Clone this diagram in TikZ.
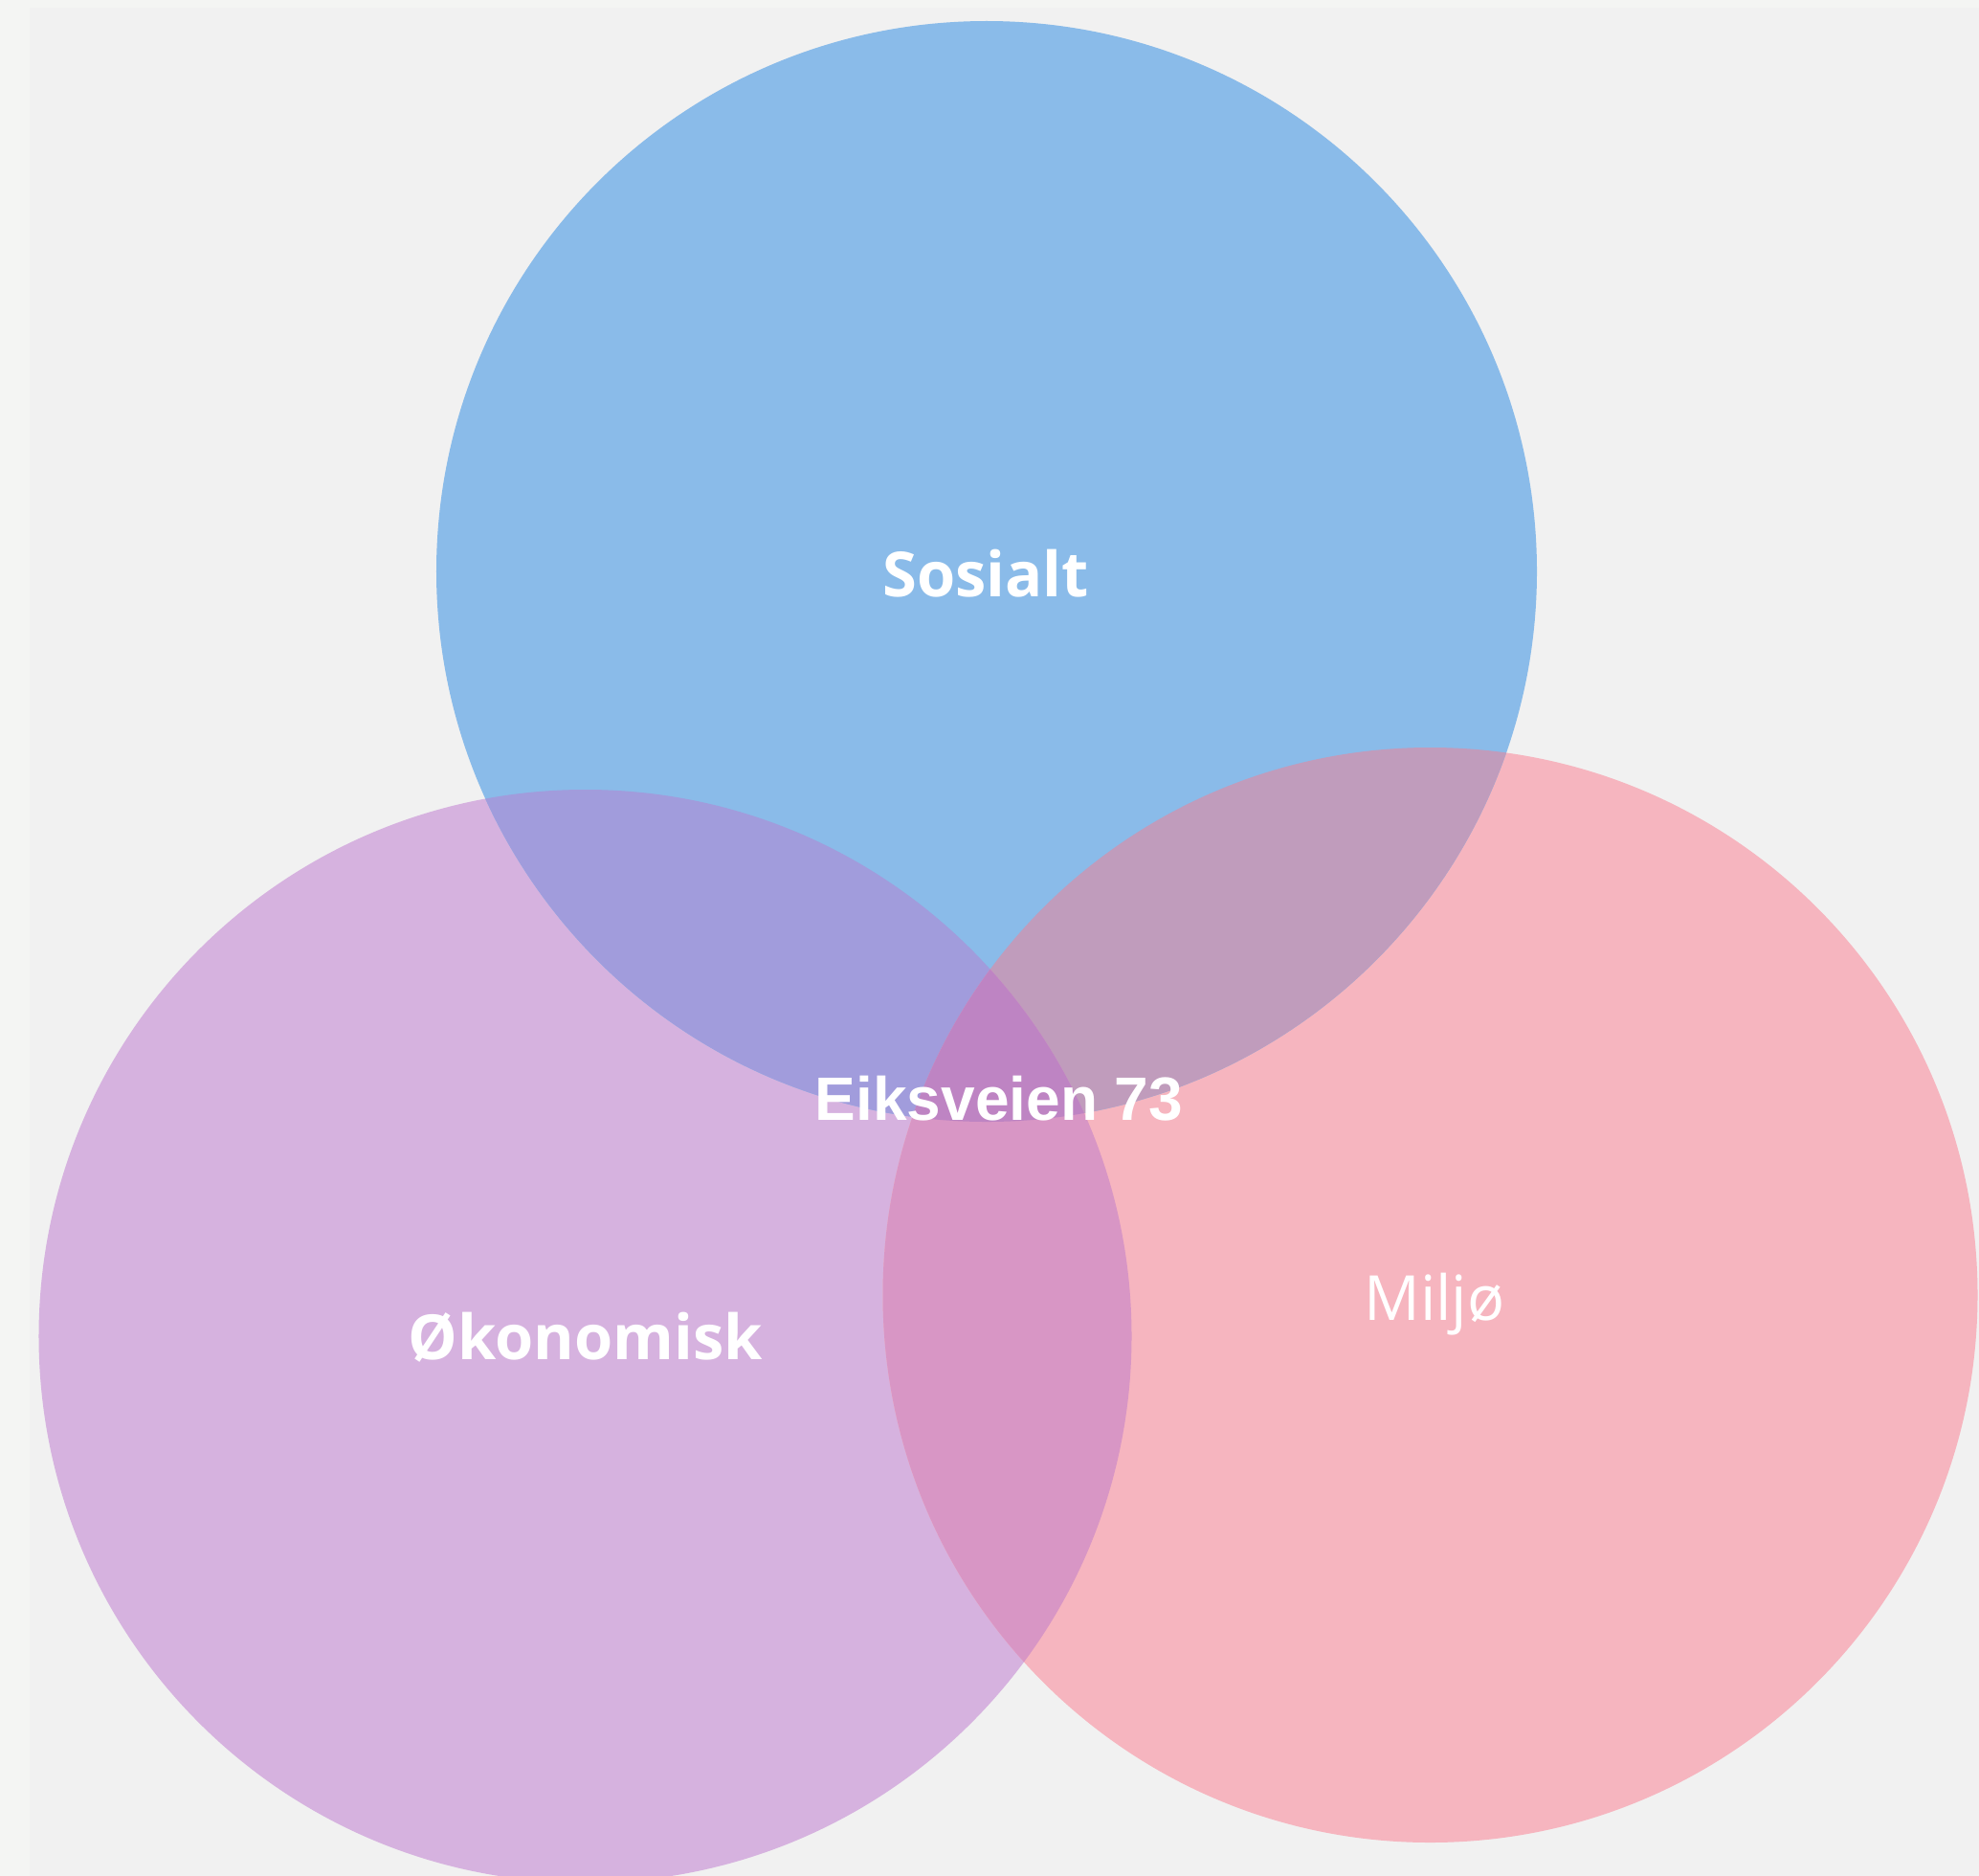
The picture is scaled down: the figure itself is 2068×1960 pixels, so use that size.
\documentclass[tikz,border=0pt]{standalone}
\usepackage{fontspec}
\newfontfamily\osans{Open Sans}
\newfontfamily\lsans{Liberation Sans}
\definecolor{outerbg}{HTML}{F4F5F3}
\definecolor{innerbg}{HTML}{F1F1F1}
\definecolor{cblue}{HTML}{8ABBE9}
\definecolor{cpurple}{HTML}{D6B2DF}
\definecolor{cpink}{HTML}{F6B5BF}
\definecolor{cbp}{HTML}{A19CDC}
\definecolor{cbk}{HTML}{C09CBC}
\definecolor{cpk}{HTML}{D896C5}
\definecolor{call}{HTML}{BE84C3}
\tikzset{
  lbl/.style={text=white, anchor=base, inner sep=0pt},
  boldlbl/.style={lbl, font=\osans\bfseries\fontsize{#1bp}{#1bp}\selectfont},
  reglbl/.style={lbl, font=\osans\fontsize{#1bp}{#1bp}\selectfont},
  arlbl/.style={lbl, font=\lsans\bfseries\fontsize{#1bp}{#1bp}\selectfont}
}
\begin{document}
\begin{tikzpicture}[x=1bp,y=-1bp]
\useasboundingbox (0,0) rectangle (2068,1960);
\fill[outerbg] (0,0) rectangle (2068,1960);
\fill[innerbg] (31,8) rectangle (2068,1960);
% circles
\fill[cpurple] (611.5,1396) circle[radius=571bp];
\fill[cpink] (1494.5,1353) circle[radius=572bp];
\fill[cblue] (1031,597) circle[radius=575bp];
% overlaps
\begin{scope}
  \clip (1031,597) circle[radius=575bp];
  \fill[cbp] (611.5,1396) circle[radius=571bp];
  \fill[cbk] (1494.5,1353) circle[radius=572bp];
\end{scope}
\begin{scope}
  \clip (611.5,1396) circle[radius=571bp];
  \fill[cpk] (1494.5,1353) circle[radius=572bp];
\end{scope}
\begin{scope}
  \clip (611.5,1396) circle[radius=571bp];
  \clip (1031,597) circle[radius=575bp];
  \fill[call] (1494.5,1353) circle[radius=572bp];
\end{scope}
% labels
\node[boldlbl=65] (sos) at (1030,623) {Sosialt};
\node[boldlbl=65] (oko) at (612,1420) {Økonomisk};
\node[reglbl=65] (mil) at (1499,1379) {Miljø};
\node[arlbl=64] (eik) at (1044,1170) {Eiksveien 73};
\end{tikzpicture}
\end{document}
